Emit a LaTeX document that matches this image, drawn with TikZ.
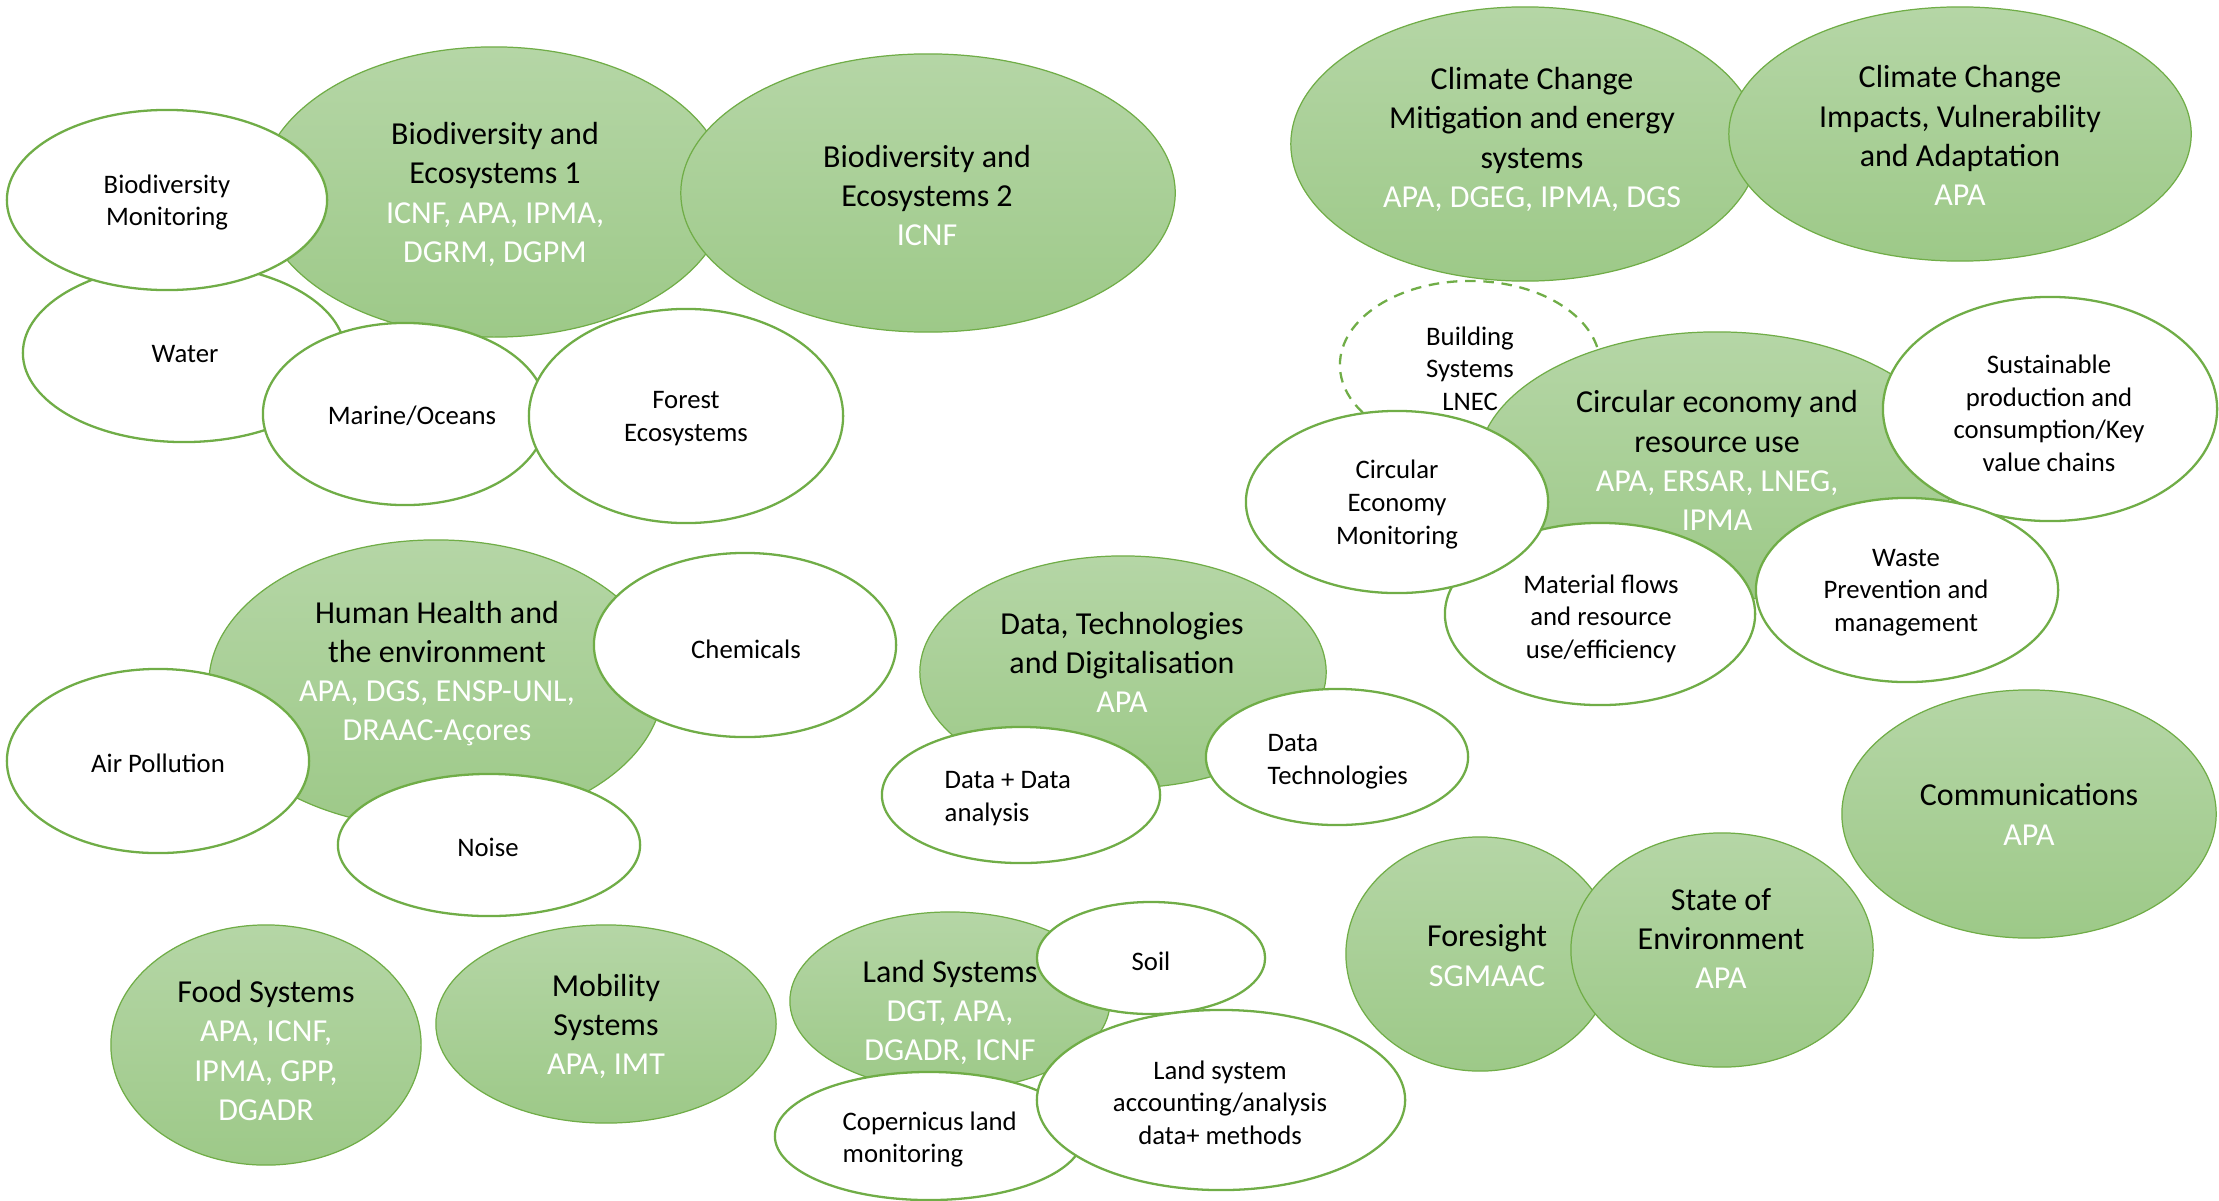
\documentclass[tikz,border=0pt]{standalone}
\usepackage{fontspec}
\setmainfont{Carlito}
\usetikzlibrary{shapes.geometric}
\definecolor{gborder}{RGB}{112,173,71}
\definecolor{gtop}{RGB}{181,214,166}
\definecolor{gbot}{RGB}{157,201,136}
\newcommand\Wtx[1]{\textcolor{white}{#1}}
\tikzset{
  bub/.style 2 args={ellipse, inner sep=0pt, minimum width=#1*0.02cm, minimum height=#2*0.02cm},
  gbub/.style 2 args={bub={#1}{#2}, draw=gborder, line width=0.35pt, top color=gtop, bottom color=gbot},
  wbub/.style 2 args={bub={#1}{#2}, draw=gborder, line width=0.65pt, fill=white},
  dbub/.style 2 args={bub={#1}{#2}, draw=gborder, line width=0.65pt, dash pattern=on 3pt off 2.2pt},
  bigt/.style={align=center, font=\fontsize{9.1pt}{11.15pt}\selectfont, inner sep=0pt, yshift=-0.015cm},
  smallt/.style={align=center, font=\fontsize{7.6pt}{9.25pt}\selectfont, inner sep=0pt, yshift=-0.025cm},
  smallleft/.style={align=left, anchor=west, font=\fontsize{7.6pt}{9.25pt}\selectfont, inner sep=0pt, yshift=-0.025cm}
}
\begin{document}
\begin{tikzpicture}[x=0.01cm, y=-0.01cm]
\useasboundingbox (0,0) rectangle (2219,1200);

% Biodiversity group
\node[gbub={234}{145}] (bio1) at (494,192) {};
\node[bigt] (bio1t) at (495,193) {Biodiversity and\\Ecosystems 1\\\Wtx{ICNF, APA, IPMA,}\\\Wtx{DGRM, DGPM}};
\node[gbub={247}{139}] (bio2) at (928,193) {};
\node[bigt] (bio2t) at (927,194) {Biodiversity and\\Ecosystems 2\\\Wtx{ICNF}};
\node[wbub={161}{89}] (water) at (184,353) {};
\node[smallt] (watert) at (185,352) {Water};
\node[wbub={160}{90}] (biomon) at (167,200) {};
\node[smallt] (biomont) at (167,200) {Biodiversity\\Monitoring};
\node[wbub={142}{91}] (marine) at (405,414) {};
\node[smallt] (marinet) at (412,413) {Marine/Oceans};
\node[wbub={157}{107}] (forest) at (686,416) {};
\node[smallt] (forestt) at (686,416) {Forest\\Ecosystems};

% Climate
\node[gbub={234}{137}] (ccm) at (1525,144) {};
\node[bigt] (ccmt) at (1532,138) {Climate Change\\Mitigation and energy\\systems\\\Wtx{APA, DGEG, IPMA, DGS}};
\node[gbub={231}{127}] (cci) at (1960,134) {};
\node[bigt] (ccit) at (1960,134) {Climate Change\\Impacts, Vulnerability\\and Adaptation\\\Wtx{APA}};

% Circular economy group
\node[dbub={130}{84}] (build) at (1470,365) {};
\node[smallt] (buildt) at (1470,366) {Building\\Systems\\LNEC};
\node[gbub={239}{134}] (circ) at (1717,466) {};
\node[bigt] (circt) at (1717,459) {Circular economy and\\resource use\\\Wtx{APA, ERSAR, LNEG,}\\\Wtx{IPMA}};
\node[wbub={167}{112}] (sust) at (2050,409) {};
\node[smallt] (sustt) at (2049,411) {Sustainable\\production and\\consumption/Key\\value chains};
\node[wbub={155}{91}] (mat) at (1600,614) {};
\node[smallt] (matt) at (1601,616) {Material flows\\and resource\\use/efficiency};
\node[wbub={151}{91}] (circmon) at (1397,502) {};
\node[smallt] (circmont) at (1397,502) {Circular\\Economy\\Monitoring};
\node[wbub={151}{92}] (waste) at (1907,590) {};
\node[smallt] (wastet) at (1906,590) {Waste\\Prevention and\\management};

% Human health group
\node[gbub={227}{144}] (hh) at (436,684) {};
\node[bigt] (hht) at (437,672) {Human Health and\\the environment\\\Wtx{APA, DGS, ENSP-UNL,}\\\Wtx{DRAAC-Açores}};
\node[wbub={151}{92}] (chem) at (745,645) {};
\node[smallt] (chemt) at (746,647) {Chemicals};
\node[wbub={151}{92}] (air) at (158,761) {};
\node[smallt] (airt) at (158,761) {Air Pollution};
\node[wbub={151}{71}] (noise) at (489,845) {};
\node[smallt] (noiset) at (488,845) {Noise};

% Data group
\node[gbub={203}{116}] (data) at (1123,672) {};
\node[bigt] (datat) at (1122,661) {Data, Technologies\\and Digitalisation\\\Wtx{APA}};
\node[wbub={139}{68}] (dd) at (1021,795) {};
\node[smallleft] (ddt) at (944,796) {Data + Data\\analysis};
\node[wbub={131}{68}] (dt) at (1337,757) {};
\node[smallleft] (dtt) at (1267,759) {Data\\Technologies};

% Other topics
\node[gbub={187}{124}] (comm) at (2029,814) {};
\node[bigt] (commt) at (2029,813) {Communications\\\Wtx{APA}};
\node[gbub={134}{117}] (fore) at (1480,954) {};
\node[bigt] (foret) at (1487,954) {Foresight\\\Wtx{SGMAAC}};
\node[gbub={151}{117}] (soe) at (1722,950) {};
\node[bigt] (soet) at (1721,937) {State of\\Environment\\\Wtx{APA}};
\node[gbub={155}{120}] (food) at (266,1045) {};
\node[bigt] (foodt) at (266,1049) {Food Systems\\\Wtx{APA, ICNF,}\\\Wtx{IPMA, GPP,}\\\Wtx{DGADR}};
\node[gbub={170}{99}] (mob) at (606,1024) {};
\node[bigt] (mobt) at (606,1025) {Mobility\\Systems\\\Wtx{APA, IMT}};

% Land group
\node[gbub={160}{89}] (land) at (950,1001) {};
\node[bigt] (landt) at (950,1011) {Land Systems\\\Wtx{DGT, APA,}\\\Wtx{DGADR, ICNF}};
\node[wbub={114}{56}] (soil) at (1151,958) {};
\node[smallt] (soilt) at (1151,959) {Soil};
\node[wbub={154}{64}] (cop) at (929,1136) {};
\node[smallleft] (copt) at (842,1137) {Copernicus land\\monitoring};
\node[wbub={184}{90}] (acc) at (1221,1100) {};
\node[smallt] (acct) at (1220,1100) {Land system\\accounting/analysis\\data+ methods};
\end{tikzpicture}
\end{document}
